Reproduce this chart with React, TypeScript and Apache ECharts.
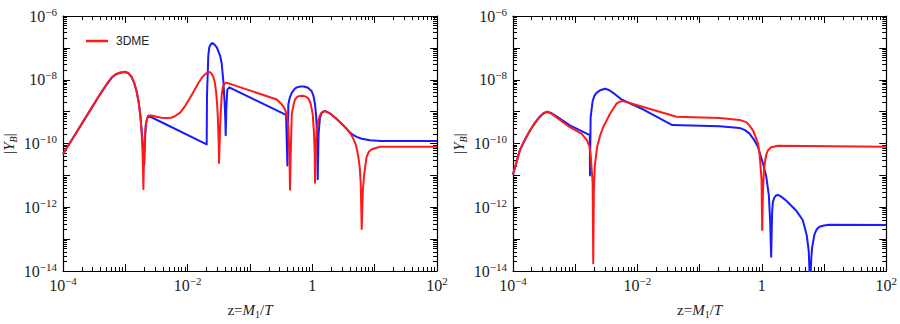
import React, { useEffect, useRef } from 'react';
import * as echarts from 'echarts';

// [log10 z, log10 |Y_B|]
const leftBlue: [number, number][] = [
  [-4.0, -10.33], [-3.8, -9.7], [-3.6, -9.07], [-3.4, -8.44], [-3.3, -8.15], [-3.22, -7.94],
  [-3.15, -7.83], [-3.08, -7.78], [-3.005, -7.76], [-2.95, -7.8], [-2.9, -7.91], [-2.86, -8.09],
  [-2.82, -8.36], [-2.79, -8.65], [-2.76, -9.1], [-2.74, -9.55], [-2.72, -10.05], [-2.696, -10.66],
  [-2.685, -9.9], [-2.67, -9.4], [-2.65, -9.22], [-2.63, -9.13], [-1.695, -10.03],
  [-1.69, -8.5], [-1.669, -7.24], [-1.653, -6.98], [-1.63, -6.89], [-1.605, -6.85], [-1.573, -6.89],
  [-1.534, -6.98], [-1.48, -7.24], [-1.454, -7.49], [-1.427, -8.06], [-1.406, -8.77], [-1.395, -9.3],
  [-1.39, -9.74], [-1.38, -8.9], [-1.364, -8.31], [-1.332, -8.24], [-0.422, -9.1], [-0.4, -10.69],
  [-0.385, -8.77], [-0.36, -8.55], [-0.33, -8.41], [-0.29, -8.3], [-0.25, -8.24], [-0.19, -8.21],
  [-0.133, -8.21], [-0.07, -8.25], [-0.01, -8.36], [0.02, -8.52], [0.043, -8.77], [0.06, -9.1],
  [0.07, -9.49], [0.08, -10.1], [0.086, -11.12], [0.1, -9.7], [0.123, -9.18], [0.15, -9.04],
  [0.176, -9.0], [0.203, -8.98], [0.3, -9.08], [0.391, -9.23], [0.47, -9.38], [0.551, -9.54],
  [0.6, -9.65], [0.658, -9.74], [0.72, -9.8], [0.792, -9.85], [0.925, -9.9], [1.1, -9.92], [2.0, -9.92],
];

const leftRed: [number, number][] = [
  [-4.0, -10.33], [-3.8, -9.7], [-3.6, -9.07], [-3.4, -8.44], [-3.3, -8.14], [-3.22, -7.93],
  [-3.15, -7.82], [-3.08, -7.77], [-3.005, -7.75], [-2.95, -7.79], [-2.9, -7.9], [-2.86, -8.08],
  [-2.82, -8.35], [-2.79, -8.65], [-2.76, -9.1], [-2.74, -9.6], [-2.725, -10.2], [-2.71, -11.43],
  [-2.7, -10.3], [-2.685, -9.7], [-2.67, -9.39], [-2.65, -9.22], [-2.63, -9.13], [-2.58, -9.12],
  [-2.5, -9.16], [-2.42, -9.19], [-2.34, -9.2], [-2.27, -9.19], [-2.22, -9.16], [-2.12, -9.03],
  [-2.04, -8.82], [-1.963, -8.57], [-1.89, -8.32], [-1.83, -8.11], [-1.77, -7.93], [-1.722, -7.83],
  [-1.69, -7.78], [-1.658, -7.75], [-1.625, -7.79], [-1.59, -7.9], [-1.565, -8.08], [-1.545, -8.36],
  [-1.53, -8.7], [-1.518, -9.09], [-1.502, -10.0], [-1.497, -10.61], [-1.48, -9.49], [-1.454, -8.47],
  [-1.44, -8.28], [-1.427, -8.18], [-1.39, -8.09], [-1.332, -8.12], [-0.571, -8.62], [-0.491, -8.77],
  [-0.45, -8.88], [-0.42, -9.03], [-0.4, -9.22], [-0.385, -9.49], [-0.368, -10.3], [-0.358, -11.45],
  [-0.345, -10.2], [-0.33, -9.08], [-0.3, -8.78], [-0.278, -8.62], [-0.25, -8.55], [-0.225, -8.52],
  [-0.154, -8.5], [-0.1, -8.53], [-0.064, -8.59], [-0.03, -8.72], [0.006, -9.08], [0.027, -9.69],
  [0.038, -10.3], [0.043, -11.23], [0.055, -10.1], [0.07, -9.6], [0.096, -9.28], [0.12, -9.12],
  [0.15, -9.03], [0.203, -8.98], [0.3, -9.08], [0.391, -9.23], [0.47, -9.38], [0.551, -9.54],
  [0.61, -9.68], [0.658, -9.85], [0.7, -10.05], [0.738, -10.41], [0.76, -10.75], [0.776, -11.23],
  [0.792, -12.68], [0.81, -11.5], [0.829, -11.02], [0.85, -10.7], [0.872, -10.41], [0.91, -10.25],
  [0.953, -10.18], [1.086, -10.1], [2.0, -10.1],
];

const rightBlue: [number, number][] = [
  [-4.0, -10.97], [-3.888, -10.2], [-3.8, -9.85], [-3.727, -9.59], [-3.65, -9.36], [-3.567, -9.15],
  [-3.51, -9.05], [-3.45, -9.0], [-3.39, -9.04], [-3.3, -9.15], [-3.086, -9.43], [-2.765, -9.74],
  [-2.762, -11.0], [-2.752, -9.18], [-2.72, -8.67], [-2.69, -8.5], [-2.657, -8.41], [-2.6, -8.33],
  [-2.52, -8.28], [-2.45, -8.33], [-2.39, -8.41], [-2.256, -8.62], [-1.91, -8.93], [-1.44, -9.42],
  [-0.679, -9.46], [-0.358, -9.51], [-0.27, -9.58], [-0.198, -9.69], [-0.13, -9.87], [-0.064, -10.1],
  [0.016, -10.61], [0.07, -11.02], [0.113, -11.63], [0.134, -12.45], [0.15, -13.55], [0.165, -12.2],
  [0.177, -11.84], [0.203, -11.69], [0.23, -11.63], [0.257, -11.61], [0.3, -11.65], [0.39, -11.79],
  [0.55, -12.1], [0.657, -12.4], [0.72, -12.86], [0.754, -13.37], [0.776, -14.5], [0.795, -13.6],
  [0.808, -13.27], [0.845, -12.86], [0.88, -12.7], [0.925, -12.61], [1.0, -12.57], [1.086, -12.55],
  [2.0, -12.56],
];

const rightRed: [number, number][] = [
  [-4.0, -10.97], [-3.888, -10.2], [-3.8, -9.85], [-3.727, -9.59], [-3.65, -9.36], [-3.567, -9.16],
  [-3.51, -9.06], [-3.45, -9.01], [-3.39, -9.05], [-3.3, -9.18], [-3.086, -9.49], [-2.9, -9.69],
  [-2.81, -9.9], [-2.77, -10.1], [-2.75, -10.41], [-2.72, -11.23], [-2.71, -13.76], [-2.7, -11.4],
  [-2.685, -10.71], [-2.647, -10.1], [-2.6, -9.75], [-2.55, -9.49], [-2.444, -9.08], [-2.336, -8.75],
  [-2.29, -8.69], [-2.24, -8.67], [-2.15, -8.71], [-2.015, -8.79], [-1.48, -9.1], [-1.374, -9.16],
  [-0.679, -9.2], [-0.358, -9.26], [-0.25, -9.33], [-0.198, -9.44], [-0.14, -9.6], [-0.1, -9.79],
  [-0.06, -10.02], [-0.037, -10.31], [-0.005, -11.12], [0.006, -12.71], [0.018, -11.5], [0.032, -10.92],
  [0.05, -10.58], [0.07, -10.36], [0.1, -10.21], [0.15, -10.12], [0.257, -10.07], [2.0, -10.1],
];

const xLabelExps = [-4, -2, 0, 2];
const yLabelExps = [-14, -12, -10, -8, -6];
const xRange = [1e-4, 1e2];
const yRange = [1e-14, 1e-6];
const legendName = '3DME';

const serif = "'Liberation Serif', 'DejaVu Serif', serif";
const sans = "'Liberation Sans', Arial, sans-serif";
const RED = '#ff1a1a';
const BLUE = '#1a1aff';

const toData = (pts: [number, number][]) => pts.map(([lz, ly]) => [Math.pow(10, lz), Math.pow(10, ly)]);

const expText = (v: number, allowed: number[]) => {
  const e = Math.round(Math.log10(v));
  if (!allowed.includes(e)) return '';
  if (e === 0) return '{b|1}';
  return `{b|10}{s|${e < 0 ? '\u2212' + -e : e}}`;
};

const labelRich = {
  b: { fontFamily: serif, fontSize: 16, color: '#222', lineHeight: 20 },
  s: { fontFamily: serif, fontSize: 11, color: '#222', lineHeight: 11, verticalAlign: 'top' },
};

const nameRich = {
  n: { fontFamily: serif, fontSize: 15, color: '#222', lineHeight: 18 },
  i: { fontFamily: serif, fontSize: 15, color: '#222', fontStyle: 'italic', lineHeight: 18 },
  u: { fontFamily: serif, fontSize: 10, color: '#222', lineHeight: 10, verticalAlign: 'bottom' },
  ui: { fontFamily: serif, fontSize: 10, color: '#222', lineHeight: 10, verticalAlign: 'bottom', fontStyle: 'italic' },
};

const baseAxis = (gridIndex: number, range: number[]) => ({
  type: 'log' as const,
  logBase: 10,
  gridIndex,
  min: range[0],
  max: range[1],
  axisLine: { show: true, onZero: false, lineStyle: { color: '#000', width: 1.2 } },
  axisTick: { show: true, inside: true, length: 7, lineStyle: { color: '#000', width: 1 } },
  minorTick: { show: true, splitNumber: 9, length: 4, lineStyle: { color: '#000', width: 1 } },
  splitLine: { show: false },
  minorSplitLine: { show: false },
});

export default function App() {
  const ref = useRef<HTMLDivElement>(null);
  useEffect(() => {
    document.body.style.margin = '0';
    if (!ref.current) return;
    const chart = echarts.init(ref.current, undefined, { renderer: 'svg' });
    const xAxes: any[] = [];
    const yAxes: any[] = [];
    [0, 1].forEach((g) => {
      xAxes.push({
        ...baseAxis(g, xRange),
        position: 'bottom',
        axisLabel: { margin: 4, formatter: (v: number) => expText(v, xLabelExps), rich: labelRich },
        name: '{n|z=}{i|M}{u|1}{n|/}{i|T}',
        nameLocation: 'middle',
        nameGap: 30,
        nameTextStyle: { rich: nameRich },
      });
      xAxes.push({ ...baseAxis(g, xRange), position: 'top', axisLabel: { show: false } });
      yAxes.push({
        ...baseAxis(g, yRange),
        position: 'left',
        axisLabel: { margin: 6, formatter: (v: number) => expText(v, yLabelExps), rich: labelRich },
        name: '{n||}{i|Y}{ui|B}{n||}',
        nameLocation: 'middle',
        nameGap: 45,
        nameTextStyle: { rich: nameRich },
      });
      yAxes.push({ ...baseAxis(g, yRange), position: 'right', axisLabel: { show: false } });
    });

    const line = (name: string, pts: [number, number][], color: string, g: number) => ({
      name,
      type: 'line',
      xAxisIndex: g * 2,
      yAxisIndex: g * 2,
      data: toData(pts),
      showSymbol: false,
      symbol: 'none',
      smooth: false,
      clip: true,
      lineStyle: { color, width: 2, join: 'round' },
      itemStyle: { color },
    });

    chart.setOption({
      animation: false,
      grid: [
        { left: 63, top: 16, width: 374, height: 261 },
        { left: 513, top: 16, width: 374, height: 261 },
      ],
      legend: {
        data: [{ name: legendName, icon: 'rect' }],
        left: 86,
        top: 35,
        padding: 0,
        itemWidth: 22,
        itemHeight: 2.5,
        textStyle: { fontFamily: sans, fontSize: 12, color: '#222', padding: [0, 0, 0, 3] },
      },
      xAxis: xAxes,
      yAxis: yAxes,
      series: [
        line('left blue', leftBlue, BLUE, 0),
        line(legendName, leftRed, RED, 0),
        line('right blue', rightBlue, BLUE, 1),
        line('right red', rightRed, RED, 1),
      ],
    });
    return () => chart.dispose();
  }, []);
  return <div ref={ref} style={{ width: 900, height: 324 }} />;
}
